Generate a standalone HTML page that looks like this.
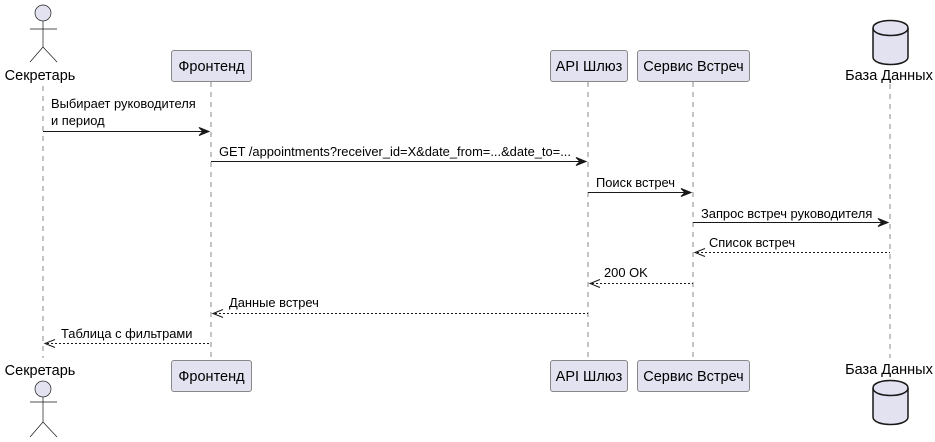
<!DOCTYPE html>
<html><head><meta charset="utf-8"><style>
html,body{margin:0;padding:0;background:#fff}
svg{display:block}
text{font-family:"Liberation Sans",sans-serif;fill:#000}
.p{font-size:14.5px}
.m{font-size:12.9px}
.ll{stroke:#888;stroke-width:1;stroke-dasharray:5,5}
.bx{fill:#E2E2F0;stroke:#888;stroke-width:1}
.a{stroke:#181818;stroke-width:1;fill:none}
.d{stroke:#181818;stroke-width:1;fill:none;stroke-dasharray:2,2}
.ah{fill:#181818;stroke:#181818}
</style></head><body>
<svg width="935" height="442" viewBox="0 0 935 442">
<line class="ll" x1="43" y1="86" x2="43" y2="358"/>
<line class="ll" x1="211" y1="82" x2="211" y2="360"/>
<line class="ll" x1="588" y1="82" x2="588" y2="360"/>
<line class="ll" x1="693" y1="82" x2="693" y2="360"/>
<line class="ll" x1="890" y1="84" x2="890" y2="358"/>

<circle cx="43" cy="13" r="8" fill="#E2E2F0" stroke="#181818" stroke-width="0.7"/>
<line x1="43" y1="21" x2="43" y2="47" stroke="#181818" stroke-width="0.7"/>
<line x1="30" y1="29" x2="57" y2="29" stroke="#181818" stroke-width="0.7"/>
<line x1="43" y1="47" x2="30" y2="62" stroke="#181818" stroke-width="0.7"/>
<line x1="43" y1="47" x2="57" y2="62" stroke="#181818" stroke-width="0.7"/>
<text class="p" x="40" y="80" text-anchor="middle">Секретарь</text>

<text class="p" x="40" y="375" text-anchor="middle">Секретарь</text>
<circle cx="43" cy="389" r="8" fill="#E2E2F0" stroke="#181818" stroke-width="0.7"/>
<line x1="43" y1="397" x2="43" y2="422" stroke="#181818" stroke-width="0.7"/>
<line x1="30" y1="402" x2="57" y2="402" stroke="#181818" stroke-width="0.7"/>
<line x1="43" y1="422" x2="30" y2="437" stroke="#181818" stroke-width="0.7"/>
<line x1="43" y1="422" x2="57" y2="437" stroke="#181818" stroke-width="0.7"/>

<rect class="bx" x="171.5" y="50.5" width="80" height="31" rx="2.5"/>
<text class="p" x="211.5" y="71" text-anchor="middle">Фронтенд</text>
<rect class="bx" x="550.5" y="50.5" width="77" height="31" rx="2.5"/>
<text class="p" x="589" y="71" text-anchor="middle">API Шлюз</text>
<rect class="bx" x="637.5" y="50.5" width="112" height="31" rx="2.5"/>
<text class="p" x="693.5" y="71" text-anchor="middle">Сервис Встреч</text>
<rect class="bx" x="171.5" y="360.5" width="80" height="31" rx="2.5"/>
<text class="p" x="211.5" y="381" text-anchor="middle">Фронтенд</text>
<rect class="bx" x="550.5" y="360.5" width="77" height="31" rx="2.5"/>
<text class="p" x="589" y="381" text-anchor="middle">API Шлюз</text>
<rect class="bx" x="637.5" y="360.5" width="112" height="31" rx="2.5"/>
<text class="p" x="693.5" y="381" text-anchor="middle">Сервис Встреч</text>

<path d="M873,28 C873,18 908,18 908,28 L908,57 C908,67 873,67 873,57 Z" fill="#E2E2F0" stroke="#181818" stroke-width="1.5"/>
<path d="M873,28 C873,38 908,38 908,28" fill="none" stroke="#181818" stroke-width="1.5"/>
<text class="p" x="889" y="80" text-anchor="middle">База Данных</text>
<text class="p" x="889" y="374" text-anchor="middle">База Данных</text>
<path d="M873,388 C873,378 908,378 908,388 L908,417 C908,427 873,427 873,417 Z" fill="#E2E2F0" stroke="#181818" stroke-width="1.5"/>
<path d="M873,388 C873,398 908,398 908,388" fill="none" stroke="#181818" stroke-width="1.5"/>

<text class="m" x="51" y="108">Выбирает руководителя</text>
<text class="m" x="51" y="125">и период</text>
<line class="a" x1="43" y1="131.5" x2="209" y2="131.5"/>
<path class="ah" d="M199,127.5 L209,131.5 L199,135.5 L203,131.5 Z"/>

<text class="m" x="219" y="156">GET /appointments?receiver_id=X&amp;date_from=...&amp;date_to=...</text>
<line class="a" x1="211" y1="161.5" x2="586" y2="161.5"/>
<path class="ah" d="M576,157.5 L586,161.5 L576,165.5 L580,161.5 Z"/>

<text class="m" x="596" y="187">Поиск встреч</text>
<line class="a" x1="588" y1="192.5" x2="691" y2="192.5"/>
<path class="ah" d="M681,188.5 L691,192.5 L681,196.5 L685,192.5 Z"/>

<text class="m" x="701" y="218">Запрос встреч руководителя</text>
<line class="a" x1="693" y1="222.5" x2="888" y2="222.5"/>
<path class="ah" d="M878,218.5 L888,222.5 L878,226.5 L882,222.5 Z"/>

<text class="m" x="709" y="247">Список встреч</text>
<line class="d" x1="697" y1="252.5" x2="890" y2="252.5"/>
<path class="a" d="M705,248.5 L695,252.5 L705,256.5"/>

<text class="m" x="604" y="277">200 OK</text>
<line class="d" x1="592" y1="283.5" x2="693" y2="283.5"/>
<path class="a" d="M600,279.5 L590,283.5 L600,287.5"/>

<text class="m" x="229" y="307">Данные встреч</text>
<line class="d" x1="215" y1="313.5" x2="588" y2="313.5"/>
<path class="a" d="M223,309.5 L213,313.5 L223,317.5"/>

<text class="m" x="61" y="338">Таблица с фильтрами</text>
<line class="d" x1="47" y1="343.5" x2="211" y2="343.5"/>
<path class="a" d="M55,339.5 L45,343.5 L55,347.5"/>
</svg>
</body></html>
